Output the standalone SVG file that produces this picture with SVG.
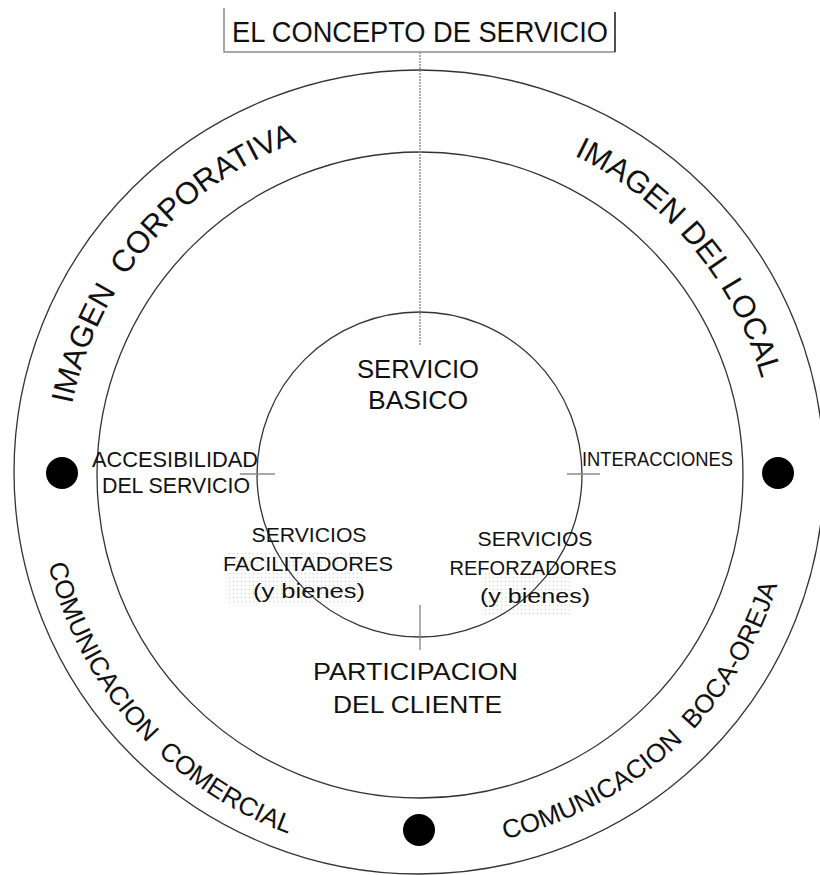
<svg xmlns="http://www.w3.org/2000/svg" width="820" height="875" viewBox="0 0 820 875">
<style>
.ring{fill:none;stroke:#333;stroke-width:1.3}
.conn{fill:none;stroke:#8a8a8a;stroke-width:1.4}
.dot{fill:#000}
.t{font-family:"Liberation Sans",Arial,sans-serif;fill:#111;text-anchor:middle}
.arc{font-family:"Liberation Sans",Arial,sans-serif;fill:#111}
</style>
<defs>
<pattern id="stip" width="4" height="4" patternUnits="userSpaceOnUse">
<rect x="1" y="1" width="1" height="1" fill="#cfcfcf"/>
</pattern>
<path id="p1" d="M166.4,723.4 A355,355 0 0 1 626.6,186.3"/>
<path id="p2" d="M216.4,184.2 A355,355 0 0 1 671,726"/>
<path id="p3" d="M142,213 A382,382 0 0 0 648.3,781.3"/>
<path id="p4" d="M169.8,752.9 A374,374 0 0 0 714.7,244.7"/>
</defs>
<rect width="820" height="875" fill="#fff"/>

<g id="outer-ring">
<ellipse class="ring" cx="419" cy="472" rx="405" ry="402"/>
</g>
<g id="middle-ring">
<circle class="ring" cx="420" cy="475" r="323"/>
</g>

<g id="stipple">
<rect x="228" y="550" width="135" height="55" fill="url(#stip)"/>
<rect x="483" y="570" width="88" height="46" fill="url(#stip)"/>
</g>

<g id="inner-ring">
<circle class="ring" cx="419.5" cy="474.5" r="162.5"/>
</g>

<g id="connectors">
<polyline points="224,8 224,52 615,52" fill="none" stroke="#8a8a8a" stroke-width="1.5"/>
<line x1="615" y1="12" x2="615" y2="52" stroke="#222" stroke-width="1.6"/>
<line class="conn" x1="420" y1="52" x2="420" y2="345" stroke-dasharray="2,1"/>
<line class="conn" x1="240" y1="474" x2="275" y2="474"/>
<line class="conn" x1="567" y1="474" x2="600" y2="474"/>
<line class="conn" x1="420" y1="605" x2="420" y2="650"/>
</g>

<g id="title">
<text class="t" x="420" y="42" font-size="30" textLength="376" lengthAdjust="spacingAndGlyphs">EL CONCEPTO DE SERVICIO</text>
</g>

<g id="servicio-basico">
<text class="t" x="418" y="378" font-size="25" textLength="122" lengthAdjust="spacingAndGlyphs">SERVICIO</text>
<text class="t" x="418" y="409" font-size="25" textLength="100" lengthAdjust="spacingAndGlyphs">BASICO</text>
</g>

<g id="accesibilidad">
<text class="t" x="175" y="467" font-size="22" textLength="166" lengthAdjust="spacingAndGlyphs">ACCESIBILIDAD</text>
<text class="t" x="176" y="493" font-size="22" textLength="148" lengthAdjust="spacingAndGlyphs">DEL SERVICIO</text>
</g>

<g id="interacciones">
<text class="t" x="657.5" y="466" font-size="21" textLength="151" lengthAdjust="spacingAndGlyphs">INTERACCIONES</text>
</g>

<g id="facilitadores">
<text class="t" x="309" y="542" font-size="20" textLength="115" lengthAdjust="spacingAndGlyphs">SERVICIOS</text>
<text class="t" x="308" y="571" font-size="20" textLength="170" lengthAdjust="spacingAndGlyphs">FACILITADORES</text>
<text class="t" x="309" y="598" font-size="20" textLength="112" lengthAdjust="spacingAndGlyphs">(y bienes)</text>
</g>

<g id="reforzadores">
<text class="t" x="535" y="546" font-size="20" textLength="115" lengthAdjust="spacingAndGlyphs">SERVICIOS</text>
<text class="t" x="533" y="575" font-size="20" textLength="167" lengthAdjust="spacingAndGlyphs">REFORZADORES</text>
<text class="t" x="535" y="603" font-size="20" textLength="110" lengthAdjust="spacingAndGlyphs">(y bienes)</text>
</g>

<g id="participacion">
<text class="t" x="415.5" y="680" font-size="24" textLength="205" lengthAdjust="spacingAndGlyphs">PARTICIPACION</text>
<text class="t" x="417.5" y="713" font-size="24" textLength="169" lengthAdjust="spacingAndGlyphs">DEL CLIENTE</text>
</g>

<g id="imagen-corporativa">
<text class="arc" font-size="31" text-anchor="middle"><textPath href="#p1" startOffset="50%">IMAGEN&#160; CORPORATIVA</textPath></text>
</g>
<g id="imagen-del-local">
<text class="arc" font-size="31" text-anchor="middle"><textPath href="#p2" startOffset="50%">IMAGEN DEL LOCAL</textPath></text>
</g>
<g id="comunicacion-comercial">
<text class="arc" font-size="26" text-anchor="middle"><textPath href="#p3" startOffset="50%">COMUNICACION&#160; COMERCIAL</textPath></text>
</g>
<g id="comunicacion-boca-oreja">
<text class="arc" font-size="26" text-anchor="middle"><textPath href="#p4" startOffset="50%">COMUNICACION&#160; BOCA-OREJA</textPath></text>
</g>

<g id="bullets">
<circle class="dot" cx="62" cy="473" r="16"/>
<circle class="dot" cx="778" cy="473" r="16"/>
<circle class="dot" cx="419" cy="830" r="16"/>
</g>
</svg>
